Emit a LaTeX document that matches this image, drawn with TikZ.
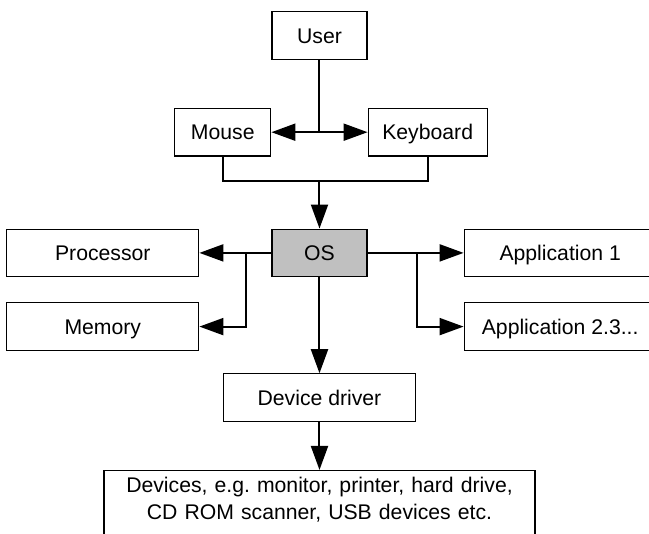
\documentclass[tikz,border=0pt]{standalone}
\usepackage{fontspec}
\setmainfont{Liberation Sans}
\usetikzlibrary{positioning, arrows.meta}
\definecolor{osgray}{RGB}{192,192,192}

\begin{document}
\begin{tikzpicture}[
    node distance=24pt and 36pt,
    blk/.style={rectangle, draw, line width=0.6pt, inner sep=0pt, minimum height=23.75pt, text height=7.6pt, text depth=0pt, font=\fontsize{10.6}{13.5}\selectfont},
    wide/.style={blk, minimum width=96pt},
    wire/.style={draw, line width=1pt},
    line/.style={wire, -{Triangle[length=12pt, width=8.5pt]}}
  ]
  \useasboundingbox (-159.75pt,-249.25pt) rectangle (164.75pt,17.75pt);

  \node[blk, minimum width=47.5pt] (user) {User};
  \node[blk, minimum width=48pt, below left=24pt and 0pt of user] (mouse) {Mouse};
  \node[blk, minimum width=59.5pt, below right=24pt and 0pt of user] (keyboard) {Keyboard};
  \node[blk, fill=osgray, minimum width=47.5pt, below right=36pt and 0pt of mouse] (os) {OS};
  \node[wide, left=36pt of os] (proc) {Processor};
  \node[wide, below=12.5pt of proc] (mem) {Memory};
  \node[wide, right=48pt of os] (app1) {Application 1};
  \node[wide, below=12.5pt of app1] (app2) {Application 2.3...};
  \node[wide, below=48pt of os] (driver) {Device driver};
  \node[blk, below=24pt of driver, text width=215.5pt, align=center, minimum height=0pt, text height=11pt, text depth=25pt] (devices) {Devices, e.g.\ monitor, printer, hard drive,\\CD ROM scanner, USB devices etc.};

  % input devices
  \draw[wire] (user.south) -- (user.south |- mouse.east) coordinate (split);
  \draw[line] (split) -- (mouse.east);
  \draw[line] (split) -- (keyboard.west);
  \draw[wire] (mouse.south) -- ++(0,-12pt) coordinate (merge) -| (keyboard.south);
  \draw[line] (merge -| os.north) -- (os.north);

  % os to hardware and programs
  \draw[line] (os.west) -- (proc.east);
  \draw[line] ([xshift=-12.5pt]os.west) |- (mem.east);
  \draw[line] (os.east) -- (app1.west);
  \draw[line] ([xshift=24.5pt]os.east) |- (app2.west);
  \draw[line] (os.south) -- (driver.north);
  \draw[line] (driver.south) -- (devices.north);

\end{tikzpicture}
\end{document}
